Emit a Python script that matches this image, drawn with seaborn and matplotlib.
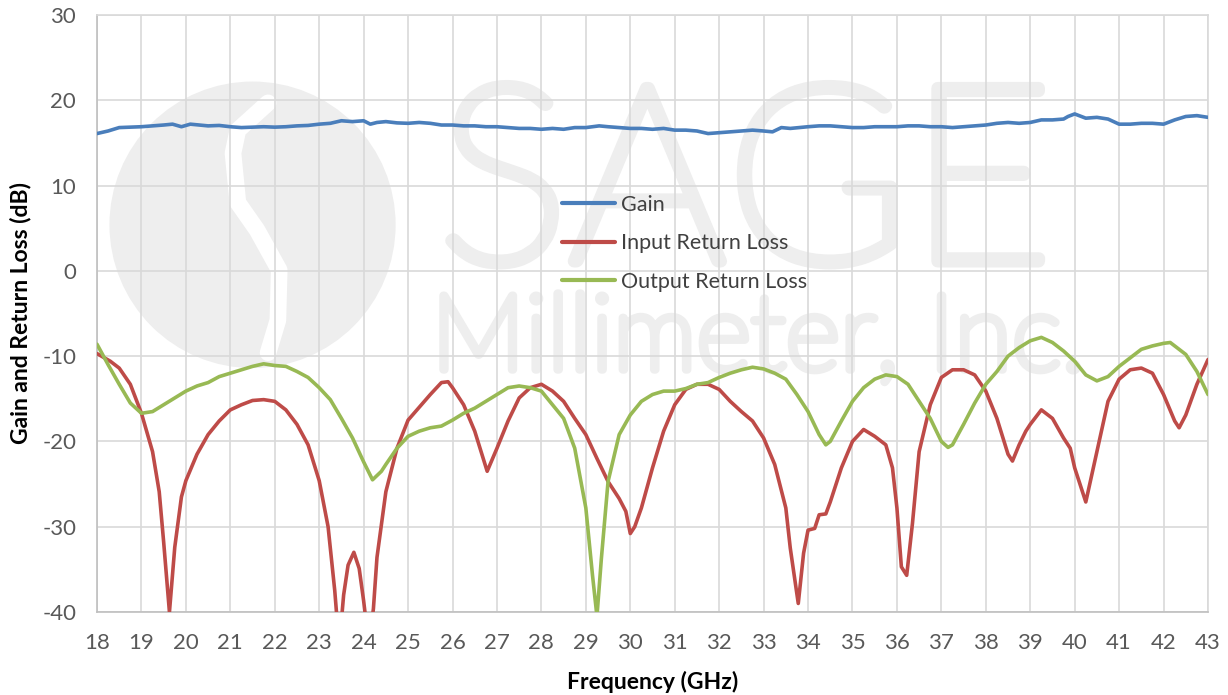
import numpy as np
import pandas as pd
import matplotlib
matplotlib.use("Agg")
import matplotlib.pyplot as plt
import matplotlib.patheffects as pe
import seaborn as sns
from matplotlib.patches import Ellipse
from matplotlib.ticker import MultipleLocator

# ---------------- data ----------------
gain_freq = [18.0, 18.25, 18.5, 18.75, 19.0, 19.25, 19.5, 19.7, 19.9, 20.1, 20.3, 20.5, 20.75, 21.0, 21.25,
             21.5, 21.75, 22.0, 22.25, 22.5, 22.75, 23.0, 23.25, 23.5, 23.75, 24.0, 24.15, 24.3, 24.5,
             24.75, 25.0, 25.25, 25.5, 25.75, 26.0, 26.25, 26.5, 26.75, 27.0, 27.25, 27.5, 27.75, 28.0,
             28.25, 28.5, 28.75, 29.0, 29.3, 29.5, 29.75, 30.0, 30.25, 30.5, 30.75, 31.0, 31.25, 31.5,
             31.75, 32.0, 32.25, 32.5, 32.75, 33.0, 33.2, 33.4, 33.6, 33.8, 34.0, 34.25, 34.5, 34.75,
             35.0, 35.25, 35.5, 35.75, 36.0, 36.25, 36.5, 36.75, 37.0, 37.25, 37.5, 37.75, 38.0, 38.25,
             38.5, 38.75, 39.0, 39.25, 39.5, 39.75, 39.85, 40.0, 40.25, 40.5, 40.75, 41.0, 41.25, 41.5,
             41.75, 42.0, 42.25, 42.5, 42.75, 43.0]
gain_db = [16.1, 16.4, 16.8, 16.85, 16.9, 17.0, 17.1, 17.2, 16.9, 17.2, 17.1, 17.0, 17.05, 16.9, 16.8,
           16.85, 16.9, 16.85, 16.9, 17.0, 17.05, 17.2, 17.3, 17.6, 17.5, 17.6, 17.2, 17.4, 17.5,
           17.35, 17.3, 17.4, 17.3, 17.1, 17.1, 17.0, 17.0, 16.9, 16.9, 16.8, 16.7, 16.7, 16.6,
           16.7, 16.6, 16.8, 16.8, 17.0, 16.9, 16.8, 16.7, 16.7, 16.6, 16.7, 16.5, 16.5, 16.4,
           16.1, 16.2, 16.3, 16.4, 16.5, 16.4, 16.3, 16.8, 16.7, 16.8, 16.9, 17.0, 17.0, 16.9,
           16.8, 16.8, 16.9, 16.9, 16.9, 17.0, 17.0, 16.9, 16.9, 16.8, 16.9, 17.0, 17.1, 17.3,
           17.4, 17.3, 17.4, 17.7, 17.7, 17.8, 18.1, 18.4, 17.9, 18.0, 17.8, 17.2, 17.2, 17.3,
           17.3, 17.2, 17.7, 18.1, 18.2, 18.0]

irl_freq = [18.0, 18.3, 18.5, 18.75, 19.0, 19.25, 19.4, 19.5, 19.63, 19.75, 19.9, 20.0, 20.25, 20.5,
            20.75, 21.0, 21.25, 21.5, 21.75, 22.0, 22.25, 22.5, 22.75, 23.0, 23.2, 23.35, 23.45, 23.55,
            23.65, 23.78, 23.9, 24.0, 24.12, 24.22, 24.3, 24.5, 24.75, 25.0, 25.25, 25.5, 25.75, 25.9,
            26.0, 26.25, 26.5, 26.78, 27.0, 27.25, 27.5, 27.75, 28.0, 28.25, 28.5, 28.75, 29.0, 29.25,
            29.5, 29.75, 29.9, 30.0, 30.1, 30.25, 30.5, 30.75, 31.0, 31.25, 31.5, 31.75, 32.0, 32.25,
            32.5, 32.75, 33.0, 33.25, 33.5, 33.6, 33.78, 33.9, 34.0, 34.15, 34.25, 34.4, 34.5, 34.75,
            35.0, 35.25, 35.5, 35.75, 35.9, 36.0, 36.1, 36.22, 36.35, 36.5, 36.75, 37.0, 37.25, 37.5,
            37.75, 38.0, 38.25, 38.5, 38.6, 38.75, 38.9, 39.0, 39.25, 39.5, 39.75, 39.9, 40.0, 40.25,
            40.5, 40.75, 41.0, 41.25, 41.5, 41.75, 42.0, 42.25, 42.35, 42.5, 42.75, 43.0]
irl_db = [-9.7, -10.6, -11.4, -13.3, -16.7, -21.2, -25.9, -31.8, -40.0, -32.4, -26.5, -24.6, -21.5, -19.2,
          -17.6, -16.3, -15.7, -15.2, -15.1, -15.3, -16.3, -18.0, -20.4, -24.6, -30.0, -37.5, -44.0, -38.0,
          -34.5, -33.0, -34.9, -38.7, -44.0, -39.6, -33.6, -25.9, -20.8, -17.5, -16.0, -14.5, -13.1, -13.0,
          -13.7, -15.7, -18.8, -23.5, -20.8, -17.6, -14.9, -13.7, -13.3, -14.1, -15.3, -17.3, -19.2, -22.0,
          -24.7, -26.7, -28.2, -30.8, -30.0, -27.8, -23.1, -18.8, -15.7, -13.9, -13.3, -13.3, -13.9, -15.3,
          -16.5, -17.6, -19.6, -22.7, -27.8, -32.5, -39.0, -33.1, -30.4, -30.2, -28.6, -28.5, -27.1, -23.1,
          -20.0, -18.6, -19.4, -20.4, -23.1, -27.8, -34.7, -35.7, -29.6, -21.2, -15.7, -12.5, -11.6, -11.6,
          -12.2, -14.1, -17.3, -21.5, -22.3, -20.4, -18.8, -18.0, -16.3, -17.3, -19.6, -20.8, -23.1, -27.1,
          -21.2, -15.3, -12.7, -11.6, -11.4, -12.0, -14.5, -17.6, -18.4, -16.9, -13.3, -10.4]

orl_freq = [18.0, 18.25, 18.5, 18.75, 19.0, 19.25, 19.5, 19.75, 20.0, 20.25, 20.5, 20.75, 21.0, 21.25,
            21.5, 21.75, 22.0, 22.25, 22.5, 22.75, 23.0, 23.25, 23.5, 23.75, 24.0, 24.2, 24.4, 24.5,
            24.75, 25.0, 25.25, 25.5, 25.75, 26.0, 26.25, 26.5, 26.75, 27.0, 27.25, 27.5, 27.75, 28.0,
            28.25, 28.5, 28.75, 29.0, 29.15, 29.25, 29.35, 29.5, 29.75, 30.0, 30.25, 30.5, 30.75, 31.0,
            31.25, 31.5, 31.75, 32.0, 32.25, 32.5, 32.75, 33.0, 33.25, 33.5, 33.75, 34.0, 34.25, 34.4,
            34.5, 34.75, 35.0, 35.25, 35.5, 35.75, 36.0, 36.25, 36.5, 36.75, 37.0, 37.15, 37.25, 37.5,
            37.75, 38.0, 38.25, 38.5, 38.75, 39.0, 39.25, 39.5, 39.75, 40.0, 40.25, 40.5, 40.75, 41.0,
            41.25, 41.5, 41.75, 42.0, 42.15, 42.5, 42.75, 43.0]
orl_db = [-8.6, -11.0, -13.3, -15.5, -16.7, -16.5, -15.7, -14.9, -14.1, -13.5, -13.1, -12.4, -12.0, -11.6,
          -11.2, -10.9, -11.1, -11.2, -11.8, -12.5, -13.7, -15.1, -17.3, -19.6, -22.4, -24.5, -23.5, -22.7,
          -20.8, -19.4, -18.8, -18.4, -18.2, -17.5, -16.7, -16.1, -15.3, -14.5, -13.7, -13.5, -13.7, -14.1,
          -15.7, -17.3, -20.8, -27.8, -35.7, -40.5, -33.7, -24.7, -19.2, -16.9, -15.3, -14.5, -14.1, -14.1,
          -13.8, -13.3, -13.1, -12.5, -12.0, -11.6, -11.3, -11.5, -12.0, -12.7, -14.5, -16.5, -19.2, -20.4,
          -20.0, -17.6, -15.3, -13.7, -12.7, -12.2, -12.4, -13.3, -15.3, -17.3, -20.0, -20.7, -20.4, -18.0,
          -15.5, -13.3, -11.8, -10.0, -9.0, -8.2, -7.8, -8.4, -9.4, -10.6, -12.2, -12.9, -12.4, -11.2,
          -10.2, -9.2, -8.8, -8.5, -8.4, -9.8, -11.8, -14.5]

series_names = ["Gain", "Input Return Loss", "Output Return Loss"]
series_colors = ["#4a7ebb", "#be4b48", "#98b954"]

x_ticks = list(range(18, 44))
y_ticks = [-40, -30, -20, -10, 0, 10, 20, 30]

watermark_top = "SAGE"
watermark_bottom = "Millimeter, Inc."

# ---------------- build tidy frame ----------------
df = pd.concat([
    pd.DataFrame({"Frequency": gain_freq, "dB": gain_db, "Series": series_names[0]}),
    pd.DataFrame({"Frequency": irl_freq, "dB": irl_db, "Series": series_names[1]}),
    pd.DataFrame({"Frequency": orl_freq, "dB": orl_db, "Series": series_names[2]}),
], ignore_index=True)

# ---------------- style ----------------
sns.set_theme(style="white")
plt.rcParams["font.family"] = ["Lato", "DejaVu Sans"]
plt.rcParams["axes.unicode_minus"] = False

fig = plt.figure(figsize=(12.28, 6.95), dpi=100)
ax = fig.add_axes([97 / 1228, 1 - 612 / 695, (1208 - 97) / 1228, (612 - 15) / 695])

ax.set_xlim(18, 43)
ax.set_ylim(-40, 30)

# ---------------- watermark (logo + company name) ----------------
wm = "#eeeeee"
ax.add_patch(Ellipse((21.5, 5.4), width=2 * 3.22, height=2 * 16.8, facecolor=wm,
                     edgecolor="none", zorder=0.1))
s_x = [21.85, 21.17, 21.06, 21.17, 21.6, 22.1, 22.07, 21.85]
s_y = [19.7, 16.5, 13.8, 8.0, 4.8, 0.1, -5.8, -9.6]
ax.plot(s_x, s_y, color="white", lw=12, solid_capstyle="butt", solid_joinstyle="round", zorder=0.15)
ax.text(25.67, 22.0, watermark_top, fontsize=178, color=wm, ha="left", va="top",
        fontweight="light", zorder=0.1,
        path_effects=[pe.withStroke(linewidth=9, foreground=wm)])
ax.text(25.52, -2.6, watermark_bottom, fontsize=76, color=wm, ha="left", va="top",
        fontweight="light", zorder=0.1,
        path_effects=[pe.withStroke(linewidth=6, foreground=wm)])

# ---------------- lines ----------------
sns.lineplot(data=df, x="Frequency", y="dB", hue="Series", hue_order=series_names,
             palette=series_colors, linewidth=2.6, sort=False, estimator=None,
             ax=ax, zorder=3)
for ln in ax.get_lines():
    ln.set_solid_joinstyle("round")
    ln.set_solid_capstyle("round")

# ---------------- axes cosmetics ----------------
grid_c = "#d9d9d9"
ax.set_axisbelow(True)
ax.set_xticks(x_ticks)
ax.set_yticks(y_ticks)
ax.xaxis.set_minor_locator(MultipleLocator(0.2))
ax.yaxis.set_minor_locator(MultipleLocator(2))
ax.grid(True, which="major", color=grid_c, lw=1.2, zorder=0.5)
for sp in ["top", "right"]:
    ax.spines[sp].set_color(grid_c)
    ax.spines[sp].set_linewidth(1.2)
for sp in ["left", "bottom"]:
    ax.spines[sp].set_color("#bfbfbf")
    ax.spines[sp].set_linewidth(1.2)

ax.tick_params(axis="both", which="major", direction="in", length=6, width=1.2,
               color="#bfbfbf", labelsize=16, labelcolor="#595959")
ax.tick_params(axis="both", which="minor", direction="in", length=5, width=1.0,
               color="#bfbfbf")
ax.tick_params(axis="y", which="major", pad=15)
ax.tick_params(axis="x", which="major", pad=15)

ax.set_xlabel("Frequency (GHz)", fontsize=16.5, fontweight="bold", color="black", labelpad=13)
ax.set_ylabel("Gain and Return Loss (dB)", fontsize=16.5, fontweight="bold", color="black", labelpad=8)

leg = ax.legend(loc="upper left", bbox_to_anchor=(0.4105, 0.713), frameon=False,
                fontsize=15.5, handlelength=2.5, handletextpad=0.25, labelspacing=0.85,
                borderaxespad=0)
for t in leg.get_texts():
    t.set_color("#404040")
for h in leg.get_lines():
    h.set_linewidth(3.0)

fig.savefig("out.png", dpi=100)
